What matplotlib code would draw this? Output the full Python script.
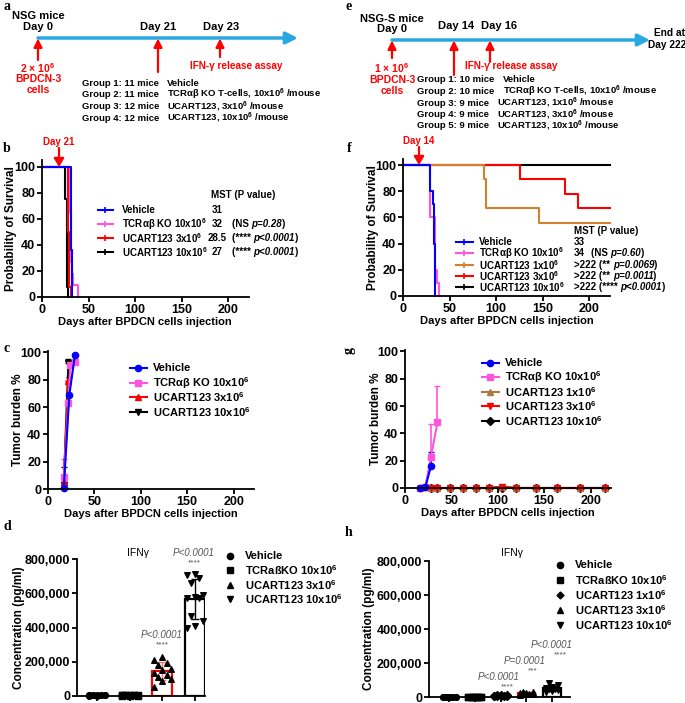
import numpy as np
import matplotlib
matplotlib.use("Agg")
import matplotlib.pyplot as plt
from matplotlib.ticker import FuncFormatter

plt.rcParams['font.family'] = ['Liberation Sans', 'DejaVu Sans']
plt.rcParams['font.weight'] = 'bold'
plt.rcParams['axes.labelweight'] = 'bold'
plt.rcParams['mathtext.fontset'] = 'custom'
plt.rcParams['mathtext.rm'] = 'Liberation Sans:bold'
plt.rcParams['mathtext.it'] = 'Liberation Sans:italic:bold'
plt.rcParams['mathtext.bf'] = 'Liberation Sans:bold'

BLUE = '#0000FF'
PINK = '#FF55DD'
RED = '#FF0000'
ORANGE = '#D4812F'
BROWN = '#A8783C'
SKY = '#29A8E0'

# ---- panel b: survival (NSG), times in days, survival in %
b_veh_t, b_veh_s = [0, 31, 32], [100, 36, 0]
b_tcr_t, b_tcr_s = [0, 30, 31, 32, 33, 39], [100, 64, 27, 18, 9, 0]
b_u3_t, b_u3_s = [0, 28, 29, 31], [100, 50, 8, 0]
b_u10_t, b_u10_s = [0, 25, 27, 28], [100, 75, 8, 0]
b_names = ['Vehicle', 'TCRαβ KO 10x10$^6$', 'UCART123 3x10$^6$', 'UCART123 10x10$^6$']
b_mst = ['31', '32', '28.5', '27']
b_p = [None, ('(NS ', 'p=0.28', ')'), ('(**** ', 'p<0.0001', ')'), ('(**** ', 'p<0.0001', ')')]

# ---- panel f: survival (NSG-S)
f_veh_t, f_veh_s = [0, 29, 32, 33, 34], [100, 80, 70, 40, 0]
f_tcr_t, f_tcr_s = [0, 29, 34, 36, 39], [100, 60, 20, 10, 0]
f_u1_t, f_u1_s = [0, 87, 89, 146, 222], [100, 89, 67, 56, 56]
f_u3_t, f_u3_s = [0, 125, 174, 188, 222], [100, 89, 78, 67, 67]
f_u10_t, f_u10_s = [0, 222], [100, 100]
f_names = ['Vehicle', 'TCRαβ KO 10x10$^6$', 'UCART123 1x10$^6$', 'UCART123 3x10$^6$', 'UCART123 10x10$^6$']
f_mst = ['33', '34', '>222', '>222', '>222']
f_p = [None, ('(NS ', 'p=0.60', ')'), ('(** ', 'p=0.0069', ')'), ('(** ', 'p=0.0011', ')'), ('(**** ', 'p<0.0001', ')')]

# ---- panel c: tumor burden (NSG)
c_veh_d, c_veh_v, c_veh_e = [17, 23, 29], [1, 69, 98], [0, 13, 0]
c_tcr_d, c_tcr_v, c_tcr_e = [17, 22, 24, 29], [9, 63, 91, 93], [13, 0, 0, 0]
c_u3_d, c_u3_v, c_u3_e = [17, 22], [5, 79], [3, 0]
c_u10_d, c_u10_v, c_u10_e = [17, 22], [3, 92], [13, 3]
c_names = ['Vehicle', 'TCRαβ KO 10x10$^6$', 'UCART123 3x10$^6$', 'UCART123 10x10$^6$']

# ---- panel g: tumor burden (NSG-S)
g_veh_d, g_veh_v, g_veh_e = [16, 22, 28], [0, 1, 16], [0, 0, 10]
g_tcr_d, g_tcr_v, g_tcr_e = [16, 22, 28, 35], [0, 1, 23, 48], [0, 0, 24, 27]
g_days = [28, 35, 49, 63, 77, 91, 104, 120, 141, 164, 189, 216]
g_u1_v = [0, 0, 0, 0, 0, 0, 1, 0, 0, 0, 0, 0]
g_u3_v = [0, 0, 0, 0, 0, 0, 1, 0, 0, 0, 0, 0]
g_u10_v = [0, 0, 0, 0, 0, 0, 0, 0, 0, 0, 0, 0]
g_names = ['Vehicle', 'TCRαβ KO 10x10$^6$', 'UCART123 1x10$^6$', 'UCART123 3x10$^6$', 'UCART123 10x10$^6$']

# ---- panel d: IFNg (pg/ml), NSG
d_veh = [3000, 4000, 2000, 5000, 3000, 4000, 6000, 2000, 3000, 5000, 4000]
d_tcr = [2000, 3000, 4000, 3000, 5000, 2000, 4000, 3000, 2000, 4000, 3000]
d_u3 = [230000, 210000, 195000, 180000, 160000, 150000, 135000, 120000, 110000, 100000, 90000, 50000]
d_u10 = [715000, 705000, 690000, 660000, 590000, 580000, 575000, 570000, 470000, 440000, 410000, 395000]
d_names = ['Vehicle', 'TCRaßKO 10x10$^6$', 'UCART123 3x10$^6$', 'UCART123 10x10$^6$']

# ---- panel h: IFNg (pg/ml), NSG-S
h_veh = [1000, 1500, 800, 1200, 1000, 900, 1300, 1100, 700, 1000]
h_tcr = [1200, 1000, 900, 1400, 1100, 800, 1000, 1300, 1200, 900]
h_u1 = [5000, 6000, 8000, 10000, 7000, 9000, 12000, 6000, 8000]
h_u3 = [12000, 15000, 18000, 20000, 25000, 28000, 32000, 22000, 16000]
h_u10 = [85000, 70000, 60000, 55000, 50000, 45000, 40000, 35000, 30000]
h_names = ['Vehicle', 'TCRaßKO 10x10$^6$', 'UCART123 1x10$^6$', 'UCART123 3x10$^6$', 'UCART123 10x10$^6$']

W, H = 685, 703
fig = plt.figure(figsize=(W / 100, H / 100), dpi=100)


def add_ax(x0, y0, x1, y1):
    return fig.add_axes([x0 / W, 1 - y1 / H, (x1 - x0) / W, (y1 - y0) / H])


def style(ax, ylabel, lab_x, xlabel=None):
    for s in ['top', 'right']:
        ax.spines[s].set_visible(False)
    for s in ['left', 'bottom']:
        ax.spines[s].set_linewidth(1.3)
    ax.tick_params(width=1.3, length=3.5, labelsize=9, pad=1.5)
    ax.set_ylabel(ylabel, fontsize=8.5)
    ax.yaxis.set_label_coords(lab_x, 0.5)
    if xlabel:
        ax.set_xlabel(xlabel, fontsize=8, labelpad=1)


XL = 'Days after BPDCN cells injection'

# survival b
axb = add_ax(42, 160, 248.5, 297)
for t, s, c in [(b_u10_t, b_u10_s, 'black'), (b_u3_t, b_u3_s, RED),
                (b_tcr_t, b_tcr_s, PINK), (b_veh_t, b_veh_s, BLUE)]:
    axb.step(t, s, where='post', color=c, lw=1.5, clip_on=False)
axb.set_xlim(0, 222)
axb.set_ylim(0, 105)
axb.set_xticks([0, 50, 100, 150, 200])
axb.set_yticks([0, 20, 40, 60, 80, 100])
style(axb, 'Probability of Survival', -0.122, XL)

# survival f
axf = add_ax(403, 158.5, 610, 296)
for t, s, c in [(f_u10_t, f_u10_s, 'black'), (f_u3_t, f_u3_s, RED), (f_u1_t, f_u1_s, ORANGE),
                (f_tcr_t, f_tcr_s, PINK), (f_veh_t, f_veh_s, BLUE)]:
    axf.step(t, s, where='post', color=c, lw=1.5, clip_on=False)
axf.set_xlim(0, 222)
axf.set_ylim(0, 105)
axf.set_xticks([0, 50, 100, 150, 200])
axf.set_yticks([0, 20, 40, 60, 80, 100])
style(axf, 'Probability of Survival', -0.117, XL)

# tumor burden c
axc = add_ax(48, 351, 254, 489)
for d, v, e, c, m in [(c_u10_d, c_u10_v, c_u10_e, 'black', 'v'), (c_u3_d, c_u3_v, c_u3_e, RED, '^'),
                      (c_tcr_d, c_tcr_v, c_tcr_e, PINK, 's'), (c_veh_d, c_veh_v, c_veh_e, BLUE, 'o')]:
    axc.errorbar(d, v, yerr=[np.zeros(len(e)), e], color=c, marker=m, ms=4.5, lw=1.5,
                 capsize=2.5, elinewidth=1.2, clip_on=False)
axc.set_xlim(0, 222)
axc.set_ylim(0, 101)
axc.set_xticks([0, 50, 100, 150, 200])
axc.set_yticks([0, 20, 40, 60, 80, 100])
style(axc, 'Tumor burden %', -0.115, XL)

# tumor burden g
axg = add_ax(405, 350, 611, 488)
for d, v, c, m in [(g_days, g_u10_v, 'black', 'D'), (g_days, g_u1_v, BROWN, '^'),
                   (g_days, g_u3_v, RED, 'v')]:
    axg.plot(d, v, color=c, marker=m, ms=4, lw=1.5, clip_on=False)
for d, v, e, c, m in [(g_tcr_d, g_tcr_v, g_tcr_e, PINK, 's'), (g_veh_d, g_veh_v, g_veh_e, BLUE, 'o')]:
    axg.errorbar(d, v, yerr=[np.zeros(len(e)), e], color=c, marker=m, ms=4.5, lw=1.5,
                 capsize=2.5, elinewidth=1.2, clip_on=False)
axg.set_xlim(0, 222)
axg.set_ylim(0, 101)
axg.set_xticks([0, 50, 100, 150, 200])
axg.set_yticks([0, 20, 40, 60, 80, 100])
style(axg, 'Tumor burden %', -0.11, XL)


def bar_panel(ax, groups, markers, edges, width):
    for i, (vals, m, ec) in enumerate(zip(groups, markers, edges)):
        vals = np.array(vals, dtype=float)
        mean, sd = vals.mean(), vals.std(ddof=1)
        ax.bar(i, mean, width=width, facecolor='white', edgecolor=ec, lw=1.6, zorder=1)
        n = len(vals)
        order = np.argsort(vals)
        offs = np.zeros(n)
        offs[order] = np.tile([-0.25, 0.0, 0.25, -0.125, 0.125], n)[:n]
        ax.scatter(i + offs, vals, marker=m, s=16, color='black', zorder=3, clip_on=False)
        ax.errorbar(i, mean, yerr=sd, color=ec if ec != RED else '#FF7070', capsize=3,
                    elinewidth=1.0, capthick=1.0, zorder=2)


fmt = FuncFormatter(lambda v, p: '{:,.0f}'.format(v))

# IFNg d
axd = add_ax(77, 559, 205, 696)
bar_panel(axd, [d_veh, d_tcr, d_u3, d_u10], ['o', 's', '^', 'v'],
          ['black', 'black', RED, 'black'], 0.61)
axd.set_xlim(-0.61, 3.3)
axd.set_ylim(0, 800000)
axd.set_yticks([0, 200000, 400000, 600000, 800000])
axd.yaxis.set_major_formatter(fmt)
axd.set_xticks(range(4))
axd.set_xticklabels([])
style(axd, 'Concentration (pg/ml)', -0.406)

# IFNg h
axh = add_ax(429, 561, 570, 697)
bar_panel(axh, [h_veh, h_tcr, h_u1, h_u3, h_u10], ['o', 's', 'D', '^', 'v'],
          ['black', 'black', 'black', RED, 'black'], 0.67)
axh.set_xlim(-0.78, 4.7)
axh.set_ylim(0, 800000)
axh.set_yticks([0, 200000, 400000, 600000, 800000])
axh.yaxis.set_major_formatter(fmt)
axh.set_xticks(range(5))
axh.set_xticklabels([])
style(axh, 'Concentration (pg/ml)', -0.383)

# ---------- overlay in pixel coordinates
ov = fig.add_axes([0, 0, 1, 1], facecolor='none')
ov.set_xlim(0, W)
ov.set_ylim(H, 0)
ov.axis('off')
rend = fig.canvas.get_renderer()


def T(x, y, s, size=7, color='black', ha='center', **kw):
    return ov.text(x, y, s, fontsize=size, color=color, ha=ha, va='center', **kw)


def rich(x, y, parts, size=7):
    for s, st in parts:
        t = ov.text(x, y, s, fontsize=size, fontstyle=st, ha='left', va='center')
        x += t.get_window_extent(renderer=rend).width


def arrow(x0, y0, x1, y1, color, lw, hw, hl):
    ov.annotate('', xy=(x1, y1), xytext=(x0, y0),
                arrowprops=dict(arrowstyle='-|>,head_width=%s,head_length=%s' % (hw, hl),
                                color=color, lw=lw, shrinkA=0, shrinkB=0))


# panel labels
for lab, x, y, rot in [('a', 7, 7, 0), ('e', 349, 7, 0), ('b', 7, 148, 0), ('f', 349, 148, 0),
                       ('c', 7, 348, 0), ('g', 349, 350, 90), ('d', 7, 526, 0), ('h', 349, 532, 0)]:
    T(x, y, lab, size=10, family='Liberation Serif', rotation=rot)

# ---- timeline a
arrow(38, 38, 298, 38, SKY, 2.5, 0.35, 0.7)
T(38, 16, 'NSG mice', 8)
T(38, 27, 'Day 0', 8)
T(158, 27, 'Day 21', 8)
T(221, 27, 'Day 23', 8)
for x, y0 in [(38, 60), (158, 72), (220, 57)]:
    arrow(x, y0, x, 38.5, RED, 1.6, 0.25, 0.5)
T(38, 68, r'2 × 10$^6$', 7.5, RED)
T(38, 79, 'BPDCN-3', 7.5, RED)
T(38, 90, 'cells', 7.5, RED)
T(236, 66, 'IFN-γ release assay', 7.2, RED)
a_groups = ['Group 1: 11 mice', 'Group 2: 11 mice', 'Group 3: 12 mice', 'Group 4: 12 mice']
a_treat = ['Vehicle', 'TCRαβ KO T-cells, 10x10$^6$ /mouse', 'UCART123, 3x10$^6$ /mouse',
           'UCART123, 10x10$^6$ /mouse']
for i, (g, tr) in enumerate(zip(a_groups, a_treat)):
    T(82, 83 + 11.7 * i, g, 6.8, ha='left')
    T(167, 83 + 11.7 * i, tr, 6.8, ha='left')

# ---- timeline e
arrow(392, 40, 650, 40, SKY, 2.5, 0.35, 0.7)
T(392, 19, 'NSG-S mice', 8)
T(392, 29, 'Day 0', 8)
T(456, 26, 'Day 14', 8)
T(499, 26, 'Day 16', 8)
T(654, 33, 'End at', 7.3, ha='left')
T(648, 45, 'Day 222', 7.3, ha='left')
for x, y0 in [(392, 58), (454, 75), (490, 62)]:
    arrow(x, y0, x, 40.5, RED, 1.6, 0.25, 0.5)
T(392, 68, r'1 × 10$^6$', 7.5, RED)
T(392, 80, 'BPDCN-3', 7.5, RED)
T(392, 91, 'cells', 7.5, RED)
T(511, 66, 'IFN-γ release assay', 7.2, RED)
e_groups = ['Group 1: 10 mice', 'Group 2: 10 mice', 'Group 3: 9 mice', 'Group 4: 9 mice', 'Group 5: 9 mice']
e_treat = ['Vehicle', 'TCRαβ KO T-cells, 10x10$^6$ /mouse', 'UCART123, 1x10$^6$ /mouse',
           'UCART123, 3x10$^6$ /mouse', 'UCART123, 10x10$^6$ /mouse']
for i, (g, tr) in enumerate(zip(e_groups, e_treat)):
    T(417, 80 + 11.5 * i, g, 6.8, ha='left')
    T(503 if i < 2 else 497, 80 + 11.5 * i, tr, 6.8, ha='left')

# ---- day markers on survival plots
T(59, 142, 'Day 21', 7, RED)
arrow(59, 148, 59, 167, RED, 1.6, 0.3, 0.5)
T(419, 141, 'Day 14', 7, RED)
arrow(419, 147, 419, 165, RED, 1.6, 0.3, 0.5)

# ---- survival legends
T(211, 195, 'MST (P value)', 7, ha='left')
for i, (nm, c) in enumerate(zip(b_names, [BLUE, PINK, RED, 'black'])):
    y = 210 + 14 * i
    ov.plot([98, 113], [y, y], color=c, lw=1.5)
    ov.plot([105.5], [y], marker='|', color=c, ms=4, mew=1.2)
    T(122, y, nm, 7, ha='left')
    T(217, y, b_mst[i], 7)
    if b_p[i]:
        rich(232, y, [(b_p[i][0], 'normal'), (b_p[i][1], 'italic'), (b_p[i][2], 'normal')])

T(574, 231, 'MST (P value)', 7, ha='left')
for i, (nm, c) in enumerate(zip(f_names, [BLUE, PINK, ORANGE, RED, 'black'])):
    y = 242 + 11.3 * i
    ov.plot([456, 473], [y, y], color=c, lw=1.5)
    ov.plot([464.5], [y], marker='|', color=c, ms=4, mew=1.2)
    T(479, y, nm, 7, ha='left')
    if f_p[i] is None:
        T(574, y, f_mst[i], 7, ha='left')
    elif i == 1:
        T(574, y, f_mst[i], 7, ha='left')
        rich(591, y, [(f_p[i][0], 'normal'), (f_p[i][1], 'italic'), (f_p[i][2], 'normal')])
    else:
        rich(574, y, [(f_mst[i] + ' ' + f_p[i][0], 'normal'), (f_p[i][1], 'italic'),
                      (f_p[i][2], 'normal')])

# ---- tumor burden legends
for i, (nm, c, m) in enumerate(zip(c_names, [BLUE, PINK, RED, 'black'], ['o', 's', '^', 'v'])):
    y = 368 + 14.7 * i
    ov.plot([130, 147], [y, y], color=c, lw=1.5)
    ov.plot([138.5], [y], marker=m, color=c, ms=4.5)
    T(153, y, nm, 8, ha='left')
for i, (nm, c, m) in enumerate(zip(g_names, [BLUE, PINK, BROWN, RED, 'black'], ['o', 's', '^', 'v', 'D'])):
    y = 363 + 14.4 * i
    ov.plot([482, 499], [y, y], color=c, lw=1.5)
    ov.plot([490.5], [y], marker=m, color=c, ms=4.5)
    T(505, y, nm, 8, ha='left')

# ---- IFNg legends / annotations
T(138, 553, 'IFNγ', 7.5, fontweight='normal')
for i, (nm, m) in enumerate(zip(d_names, ['o', 's', '^', 'v'])):
    y = 556 + 14.4 * i
    ov.plot([230], [y], marker=m, color='black', ms=4.5)
    T(245, y, nm, 8, ha='left')
T(512, 553, 'IFNγ', 7.5, fontweight='normal')
for i, (nm, m) in enumerate(zip(h_names, ['o', 's', 'D', '^', 'v'])):
    y = 565 + 15 * i
    ov.plot([560], [y], marker=m, color='black', ms=4.5 if m != 'D' else 3.5)
    T(575, y, nm, 8, ha='left')

GR = '#555555'
for x, y, p, st in [(162, 635, 'P<0.0001', '****'), (194, 553, 'P<0.0001', '****'),
                    (499, 677, 'P<0.0001', '****'), (525, 661, 'P=0.0001', '***'),
                    (552, 645, 'P<0.0001', '****')]:
    T(x, y, p, 7, GR, fontstyle='italic', fontweight='normal')
    T(x + (8 if x > 400 else 0), y + 9.5, st, 6, GR, fontweight='normal')

fig.savefig('out.png', dpi=100)
